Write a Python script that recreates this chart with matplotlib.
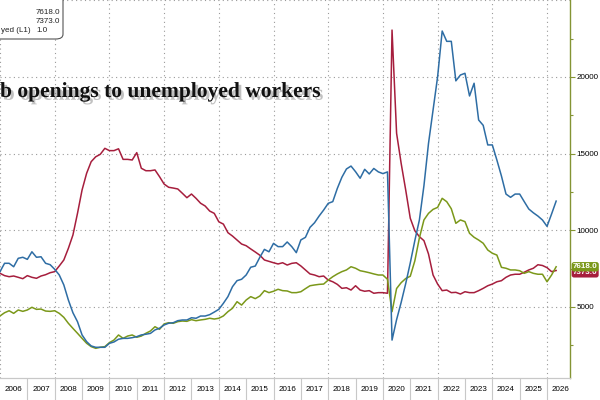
import numpy as np
import matplotlib
matplotlib.use("Agg")
import matplotlib.pyplot as plt
import matplotlib.patheffects as pe
from matplotlib.patches import FancyBboxPatch
from matplotlib.ticker import FixedLocator

# bi-monthly observations, Jan 2006 onwards (decimal years)
n_obs = 123
dates = 2006 + np.arange(n_obs) / 6.0

# ratio of job openings to unemployed workers (left axis, L1)
ratio = [0.589, 0.638, 0.638, 0.618, 0.667, 0.673, 0.661, 0.705, 0.673, 0.676,
         0.638, 0.630, 0.603, 0.570, 0.512, 0.424, 0.350, 0.298, 0.221, 0.182,
         0.157, 0.149, 0.149, 0.149, 0.172, 0.180, 0.196, 0.201, 0.201, 0.205,
         0.211, 0.221, 0.225, 0.230, 0.250, 0.260, 0.279, 0.289, 0.292, 0.304,
         0.308, 0.308, 0.321, 0.318, 0.331, 0.331, 0.339, 0.354, 0.370, 0.405,
         0.444, 0.502, 0.537, 0.545, 0.570, 0.615, 0.622, 0.673, 0.719, 0.705,
         0.754, 0.735, 0.735, 0.762, 0.735, 0.700, 0.774, 0.789, 0.847, 0.874,
         0.913, 0.948, 0.987, 0.997, 1.074, 1.139, 1.187, 1.204, 1.171, 1.133,
         1.185, 1.158, 1.190, 1.170, 1.160, 1.170, 0.191, 0.310, 0.410, 0.520,
         0.640, 0.770, 0.890, 1.090, 1.336, 1.530, 1.724, 1.990, 1.930, 1.930,
         1.700, 1.734, 1.744, 1.612, 1.686, 1.472, 1.441, 1.327, 1.327, 1.239,
         1.146, 1.041, 1.022, 1.041, 1.041, 0.997, 0.954, 0.932, 0.913, 0.890,
         0.853, 0.925, 1.000]

# unemployed persons, thousands (right axis)
unemployed = [7190, 7040, 6970, 7015, 6930, 6840, 7040, 6930, 6865, 7015,
              7100, 7230, 7300, 7670, 8060, 8820, 9690, 11100, 12620, 13710,
              14470, 14790, 14950, 15340, 15190, 15190, 15310, 14620, 14620, 14580,
              15060, 14040, 13880, 13880, 13930, 13490, 13010, 12800, 12750, 12690,
              12410, 12120, 12360, 12080, 11760, 11580, 11250, 11100, 10550, 10400,
              9840, 9620, 9360, 9100, 8990, 8780, 8580, 8370, 8060, 7970,
              7880, 7800, 7880, 7730, 7840, 7880, 7670, 7410, 7150, 7080,
              6970, 7015, 6750, 6640, 6470, 6210, 6250, 6100, 6380, 6100,
              6020, 6060, 5890, 5930, 5930, 5890, 23050, 16320, 14360, 12620,
              10780, 9970, 9580, 9320, 8450, 7080, 6490, 6060, 6100, 5930,
              5950, 5840, 5990, 5930, 5930, 6060, 6210, 6380, 6490, 6640,
              6710, 6930, 7080, 7130, 7130, 7260, 7410, 7520, 7750, 7700,
              7560, 7300, 7373]

# job openings, thousands (right axis)
openings = [4410, 4620, 4750, 4580, 4800, 4710, 4800, 4975, 4840, 4860,
            4730, 4710, 4750, 4580, 4320, 3930, 3600, 3280, 2950, 2630,
            2410, 2300, 2370, 2410, 2670, 2840, 3170, 2950, 3100, 3170,
            3020, 3100, 3280, 3430, 3710, 3540, 3890, 3970, 3930, 4040,
            4080, 4060, 4170, 4100, 4150, 4190, 4260, 4210, 4260, 4410,
            4690, 4910, 5340, 5120, 5450, 5670, 5540, 5710, 6060, 5930,
            6020, 6150, 6060, 6040, 5930, 5930, 5990, 6190, 6380, 6430,
            6470, 6490, 6750, 6970, 7150, 7300, 7410, 7620, 7520, 7360,
            7300, 7230, 7150, 7080, 7080, 6800, 4690, 6200, 6580, 6850,
            7000, 8000, 9500, 10670, 11100, 11360, 11490, 12080, 11860, 11400,
            10450, 10670, 10560, 9800, 9540, 9360, 9150, 8710, 8500, 8380,
            7580, 7520, 7410, 7410, 7360, 7190, 7300, 7190, 7130, 7130,
            6640, 7080, 7618]

years = list(range(2006, 2027))
grid_years = list(range(2006, 2027, 2))

BLUE = "#2e6da4"
RED = "#a61e3d"
GREEN = "#7b981a"
OLIVE = "#849434"
TICKFONT = "Liberation Sans"
FS = 5.8

fig = plt.figure(figsize=(6, 4), dpi=100)
ax = fig.add_axes([0, 22 / 400, 570 / 600, 378 / 400])
axr = ax.twinx()

# blue on the hidden left axis
ax.plot(dates, ratio, color=BLUE, lw=1.1, zorder=3)
ax.set_ylim(-0.0297, 2.1706)
ax.yaxis.set_visible(False)
ax.set_zorder(2)
ax.patch.set_visible(False)
axr.set_zorder(1)

axr.plot(dates, unemployed, color=RED, lw=1.1)
axr.plot(dates, openings, color=GREEN, lw=1.1)
axr.set_ylim(365, 25011)
axr.set_xlim(2006, 2026.84)

for a in (ax, axr):
    a.spines["top"].set_visible(False)
    a.spines["left"].set_visible(False)
    a.spines["right"].set_visible(False)
    a.spines["bottom"].set_color("#c8c8c8")
axr.spines["right"].set_visible(True)
axr.spines["right"].set_color(OLIVE)
axr.spines["right"].set_linewidth(1.0)

axr.set_yticks([5000, 10000, 15000, 20000])
axr.yaxis.set_minor_locator(FixedLocator([2500, 7500, 12500, 17500, 22500]))
axr.tick_params(axis="y", which="major", direction="out", length=3.5, width=0.8,
                color=OLIVE, pad=1, labelsize=FS)
axr.tick_params(axis="y", which="minor", direction="out", length=2.5, width=0.8,
                color=OLIVE)
for lab in axr.get_yticklabels():
    lab.set_fontfamily(TICKFONT)

# dotted grid
for v in [5000, 10000, 15000, 20000, 25000]:
    axr.axhline(v, color="#9a9a9a", lw=0.8, ls=(0, (1, 3)), zorder=0)
for yr in grid_years:
    axr.axvline(yr, color="#9a9a9a", lw=0.8, ls=(0, (1, 3)), zorder=0)

# year separators and centred labels
ax.set_xticks(years[1:])
ax.set_xticklabels([])
ax.tick_params(axis="x", which="major", direction="out", length=16, width=0.8,
               color="#c8c8c8")
ax.set_xticks([y + 0.5 for y in years], [str(y) for y in years], minor=True)
ax.tick_params(axis="x", which="minor", length=0, pad=6, labelsize=FS)
for lab in ax.get_xticklabels(minor=True):
    lab.set_fontfamily(TICKFONT)
axr.tick_params(axis="x", which="both", length=0, labelbottom=False)

# value tags on the right axis (red tag mostly hidden under the green one)
tr = axr.get_yaxis_transform()
axr.text(1.005, unemployed[-1] - 150, f"{unemployed[-1]:.1f}", transform=tr,
         ha="left", va="center", fontsize=FS, family=TICKFONT, color="white",
         fontweight="bold", clip_on=False,
         bbox=dict(boxstyle="round,pad=0.15,rounding_size=0.3", fc=RED, ec="none"))
axr.text(1.005, openings[-1], f"{openings[-1]:.1f}", transform=tr,
         ha="left", va="center", fontsize=FS, family=TICKFONT, color="white",
         fontweight="bold", clip_on=False,
         bbox=dict(boxstyle="round,pad=0.15,rounding_size=0.3", fc=GREEN, ec="none"))

# chart title (cropped in the reference)
fig.text(0.0, 1 - 97 / 400, "b openings to unemployed workers",
         fontsize=15.5, fontweight="bold", family="Liberation Serif", color="#111111",
         ha="left", va="baseline",
         path_effects=[pe.withSimplePatchShadow(offset=(2, -2), shadow_rgbFace="#777777",
                                                alpha=0.45)])

# legend box (cropped on the left)
box = FancyBboxPatch((-20 / 600, 1 - 39 / 400), 83 / 600, 50 / 400,
                     boxstyle="round,pad=0,rounding_size=0.012",
                     transform=fig.transFigure, fc="white", ec="#555555", lw=0.8,
                     zorder=10, clip_on=False)
fig.add_artist(box)
leg_vals = [f"{openings[-1]:.1f}", f"{unemployed[-1]:.1f}", f"{ratio[-1]:.1f}"]
for i, val in enumerate(leg_vals):
    yy = 1 - (12 + 9.5 * i) / 400
    fig.text(36 / 600, yy, val, fontsize=5.8, family=TICKFONT, color="#222222",
             ha="left", va="center", zorder=11)
fig.text(1 / 600, 1 - 31 / 400, "yed (L1)", fontsize=5.8, family=TICKFONT,
         color="#222222", ha="left", va="center", zorder=11)

fig.savefig("out.png", dpi=100)
